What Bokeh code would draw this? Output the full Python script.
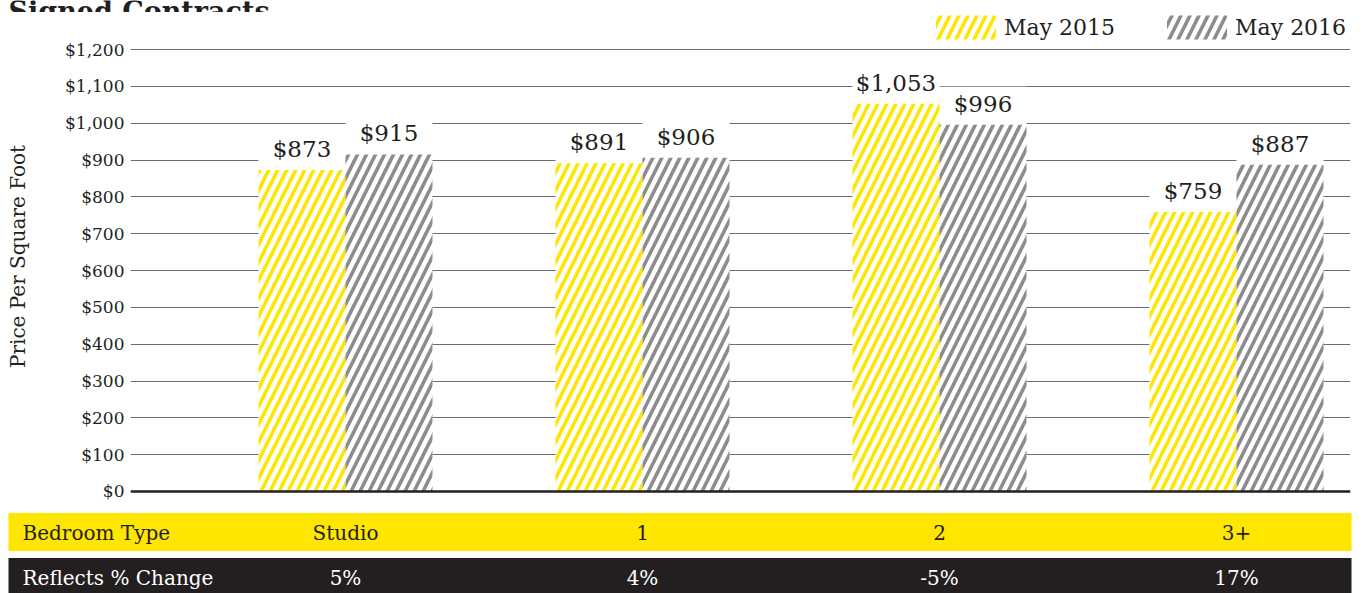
from bokeh.plotting import figure
from bokeh.layouts import column
from bokeh.models import (Range1d, FixedTicker, NumeralTickFormatter, Span,
                          ColumnDataSource, Legend, LegendItem)
from bokeh.core.properties import value
from bokeh.embed import file_html
from bokeh.resources import INLINE

# ---------------- data ----------------
categories = ["Studio", "1", "2", "3+"]
may_2015 = [873, 891, 1053, 759]
may_2016 = [915, 906, 996, 887]
pct_change = ["5%", "4%", "-5%", "17%"]
series_names = ["May 2015", "May 2016"]
y_ticks = [0, 100, 200, 300, 400, 500, 600, 700, 800, 900, 1000, 1100, 1200]
title_text = "Signed Contracts"
row_titles = ["Bedroom Type", "Reflects % Change"]

# ---------------- style ----------------
FONT = "DejaVu Serif"
INK = "#231f20"
YELLOW = "#ffe600"
GRAY = "#8c8c8c"
W = 1362
H_TITLE, H_MAIN, H_BAND = 12, 488, 93

# layout geometry (pixels, page coordinates)
FRAME_L, FRAME_R = 130, 1350
GROUP0_PX, GROUP_STEP_PX = 345, 297
ZERO_PX, TOP_PX = 491, 49          # page rows of 0 and 1200
px_per_unit = (ZERO_PX - TOP_PX) / 1200.0
LABEL_OFFSET_PX = 21               # bar top -> label anchor
LABEL_BOX_PX = 38                  # white box behind label


def px_to_x(px):
    return (px - GROUP0_PX) / GROUP_STEP_PX


# ---------------- title strip ----------------
t = figure(width=W, height=H_TITLE, x_range=Range1d(0, W), y_range=Range1d(H_TITLE, 0),
           output_backend="svg", toolbar_location=None,
           x_axis_location=None, y_axis_location=None,
           min_border=0, outline_line_color=None)
t.grid.visible = False
t.frame_align = False
t.text(x=[8], y=[11], text=[title_text], text_font=value(FONT),
       text_font_size="27px", text_font_style="bold", text_color=INK,
       text_baseline="alphabetic", text_align="left")

# ---------------- main chart ----------------
y_start = -(H_TITLE + H_MAIN - ZERO_PX) / px_per_unit
y_end = (ZERO_PX - H_TITLE) / px_per_unit

p = figure(width=W, height=H_MAIN,
           x_range=Range1d(px_to_x(FRAME_L), px_to_x(FRAME_R)),
           y_range=Range1d(y_start, y_end),
           output_backend="svg", toolbar_location=None,
           x_axis_location=None,
           min_border_left=FRAME_L, min_border_right=W - FRAME_R,
           min_border_top=0, min_border_bottom=0,
           outline_line_color=None, background_fill_color="white",
           border_fill_color="white")
p.frame_align = False

bar_w = 87 / GROUP_STEP_PX
box_units = LABEL_BOX_PX / px_per_unit
xs = list(range(len(categories)))
src = ColumnDataSource(dict(
    x15=[x - bar_w / 2 for x in xs], x16=[x + bar_w / 2 for x in xs],
    v15=may_2015, v16=may_2016,
    b15=[v + box_units for v in may_2015], b16=[v + box_units for v in may_2016],
    t15=["${:,}".format(v) for v in may_2015],
    t16=["${:,}".format(v) for v in may_2016],
))

# white boxes behind value labels (hide gridlines)
for xc, yc, bc in (("x15", "v15", "b15"), ("x16", "v16", "b16")):
    p.vbar(x=xc, bottom=yc, top=bc, width=bar_w, source=src,
           fill_color="white", line_color=None)

r15 = p.vbar(x="x15", top="v15", width=bar_w, source=src, fill_color="white",
             line_color=None, hatch_pattern="/", hatch_color=YELLOW,
             hatch_scale=18, hatch_weight=3.6)
r16 = p.vbar(x="x16", top="v16", width=bar_w, source=src, fill_color="white",
             line_color=None, hatch_pattern="/", hatch_color=GRAY,
             hatch_scale=18, hatch_weight=3.6)

for xc, tc, yc in (("x15", "t15", "v15"), ("x16", "t16", "v16")):
    p.text(x=xc, y=yc, text=tc, source=src, text_align="center",
           text_baseline="alphabetic", y_offset=-LABEL_OFFSET_PX,
           text_font=value(FONT), text_font_size="23px", text_color=INK)

# axis
ax = p.yaxis[0]
ax.ticker = FixedTicker(ticks=y_ticks)
ax.formatter = NumeralTickFormatter(format="$0,0")
ax.axis_line_color = None
ax.major_tick_line_color = None
ax.minor_tick_line_color = None
ax.major_tick_out = 0
ax.major_tick_in = 0
ax.minor_tick_out = 0
ax.major_label_standoff = 6
ax.major_label_text_font = FONT
ax.major_label_text_font_size = "17px"
ax.major_label_text_color = INK
ax.axis_label = "Price Per Square Foot"
ax.axis_label_text_font = FONT
ax.axis_label_text_font_size = "20px"
ax.axis_label_text_font_style = "normal"
ax.axis_label_text_color = INK
ax.axis_label_standoff = 32

p.xgrid.visible = False
p.ygrid.ticker = FixedTicker(ticks=y_ticks[1:])
p.ygrid.grid_line_color = "#6d6e71"
p.ygrid.grid_line_width = 1.2

p.add_layout(Span(location=0, dimension="width", line_color=INK, line_width=2.5))

legend = Legend(items=[LegendItem(label=series_names[0], renderers=[r15]),
                       LegendItem(label=series_names[1], renderers=[r16])],
                orientation="horizontal",
                location=(928 - FRAME_L, H_MAIN - 30),
                glyph_width=75, glyph_height=30, label_standoff=1, spacing=44,
                padding=0, margin=0, border_line_color=None,
                background_fill_alpha=0, label_text_font=FONT,
                label_text_font_size="22px", label_text_color=INK)
p.add_layout(legend)

# ---------------- category bands ----------------
b = figure(width=W, height=H_BAND,
           x_range=Range1d(px_to_x(0), px_to_x(W)),
           y_range=Range1d(H_BAND, 0),
           output_backend="svg", toolbar_location=None,
           x_axis_location=None, y_axis_location=None,
           min_border=0, outline_line_color=None)
b.grid.visible = False
b.frame_align = False

band_l, band_r = px_to_x(8), px_to_x(1351)
b.quad(left=[band_l], right=[band_r], top=[12.5], bottom=[50.5],
       fill_color=YELLOW, line_color=None)
b.quad(left=[band_l], right=[band_r], top=[57.5], bottom=[H_BAND + 5],
       fill_color=INK, line_color=None)

b.text(x=[px_to_x(22)], y=[32], text=[row_titles[0]], text_align="left",
       text_baseline="middle", text_font=value(FONT), text_font_size="20px",
       text_color=INK)
b.text(x=xs, y=[32] * len(xs), text=categories, text_align="center",
       text_baseline="middle", text_font=value(FONT), text_font_size="20px",
       text_color=INK)
b.text(x=[px_to_x(22)], y=[77], text=[row_titles[1]], text_align="left",
       text_baseline="middle", text_font=value(FONT), text_font_size="20px",
       text_color="white")
b.text(x=xs, y=[77] * len(xs), text=pct_change, text_align="center",
       text_baseline="middle", text_font=value(FONT), text_font_size="20px",
       text_color="white")

layout = column(t, p, b, spacing=0)
open("out.html", "w").write(file_html(layout, INLINE))
